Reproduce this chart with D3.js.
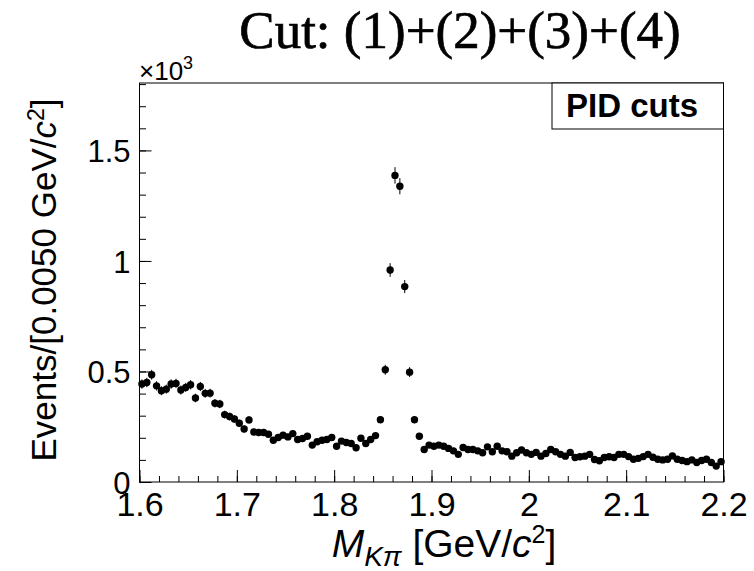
<!DOCTYPE html>
<html>
<head>
<meta charset="utf-8">
<script src="https://cdn.jsdelivr.net/npm/d3@7"></script>
<style>
  html, body { margin: 0; padding: 0; background: #fff; }
  svg { display: block; }
</style>
</head>
<body>
<div id="chart"></div>
<script>
// ---- data (events per 0.005 GeV/c^2 bin, in units of 10^3) ----
const binStart = 1.6;
const binWidth = 0.005;
const counts = [
  0.443, 0.450, 0.485, 0.435, 0.413, 0.420, 0.443, 0.446, 0.416, 0.428,
  0.440, 0.380, 0.432, 0.401, 0.402, 0.356, 0.353, 0.305, 0.296, 0.285,
  0.266, 0.240, 0.281, 0.226, 0.224, 0.224, 0.216, 0.189, 0.201, 0.212,
  0.204, 0.219, 0.192, 0.197, 0.207, 0.167, 0.182, 0.189, 0.192, 0.201,
  0.162, 0.185, 0.179, 0.174, 0.155, 0.198, 0.174, 0.192, 0.210, 0.282,
  0.508, 0.959, 1.387, 1.338, 0.884, 0.497, 0.282, 0.207, 0.147, 0.167,
  0.162, 0.167, 0.162, 0.152, 0.141, 0.125, 0.156, 0.147, 0.147, 0.141,
  0.132, 0.159, 0.137, 0.162, 0.141, 0.137, 0.117, 0.132, 0.145, 0.132,
  0.125, 0.134, 0.117, 0.129, 0.147, 0.137, 0.125, 0.117, 0.134, 0.111,
  0.114, 0.117, 0.125, 0.102, 0.096, 0.111, 0.114, 0.111, 0.125, 0.125,
  0.115, 0.103, 0.107, 0.115, 0.125, 0.112, 0.103, 0.100, 0.103, 0.118,
  0.103, 0.097, 0.092, 0.100, 0.088, 0.097, 0.103, 0.088, 0.072, 0.092
];
const xTickValues = [1.6, 1.7, 1.8, 1.9, 2.0, 2.1, 2.2];
const xTickLabels = ["1.6", "1.7", "1.8", "1.9", "2", "2.1", "2.2"];
const yTickValues = [0, 0.5, 1, 1.5];
const yTickLabels = ["0", "0.5", "1", "1.5"];
const xDomain = [1.6, 2.2];
const yDomain = [0, 1.805];
const titleText = "Cut: (1)+(2)+(3)+(4)";
const legendText = "PID cuts";

// ---- layout ----
const W = 754, H = 571;
const frame = { left: 139.5, right: 723.5, top: 83, bottom: 482 };

const svg = d3.select("#chart").append("svg")
  .attr("width", W).attr("height", H)
  .style("background", "#fff");

const x = d3.scaleLinear().domain(xDomain).range([frame.left, frame.right]);
const y = d3.scaleLinear().domain(yDomain).range([frame.bottom, frame.top]);

const font = "'Liberation Sans', Arial, Helvetica, sans-serif";

// frame
svg.append("rect")
  .attr("x", frame.left).attr("y", frame.top)
  .attr("width", frame.right - frame.left)
  .attr("height", frame.bottom - frame.top)
  .attr("fill", "none").attr("stroke", "#000").attr("stroke-width", 1);

// x axis (ticks inside, ROOT style)
const xMinor = d3.range(0, 31).map(i => 1.6 + i * 0.02);
const xAxisMinor = d3.axisBottom(x).tickValues(xMinor).tickSize(-6).tickFormat("");
const xAxisMajor = d3.axisBottom(x).tickValues(xTickValues).tickSize(-12)
  .tickFormat((d, i) => xTickLabels[i]);
const gx1 = svg.append("g").attr("transform", `translate(0,${frame.bottom})`).call(xAxisMinor);
const gx2 = svg.append("g").attr("transform", `translate(0,${frame.bottom})`).call(xAxisMajor);
[gx1, gx2].forEach(g => { g.select(".domain").remove(); g.selectAll("line").attr("stroke", "#000"); });
gx2.selectAll("text")
  .attr("font-family", font).attr("font-size", 34).attr("fill", "#000")
  .attr("dy", "0.71em").attr("y", 10);

// y axis
const yMinor = d3.range(0, 19).map(i => i * 0.1);
const yAxisMinor = d3.axisLeft(y).tickValues(yMinor).tickSize(-6.5).tickFormat("");
const yAxisMajor = d3.axisLeft(y).tickValues(yTickValues).tickSize(-12)
  .tickFormat((d, i) => yTickLabels[i]);
const gy1 = svg.append("g").attr("transform", `translate(${frame.left},0)`).call(yAxisMinor);
const gy2 = svg.append("g").attr("transform", `translate(${frame.left},0)`).call(yAxisMajor);
[gy1, gy2].forEach(g => { g.select(".domain").remove(); g.selectAll("line").attr("stroke", "#000"); });
gy2.selectAll("text")
  .attr("font-family", font).attr("font-size", 31).attr("fill", "#000")
  .attr("x", -9).attr("dy", "0.36em");

// x10^3 multiplier
const mult = svg.append("text").attr("x", 139).attr("y", 80)
  .attr("font-family", font).attr("font-size", 26).attr("fill", "#000");
mult.append("tspan").text("\u00d710");
mult.append("tspan").attr("font-size", 18).attr("dy", -11).text("3");

// data points with error bars
const pts = counts.map((v, i) => ({
  xc: binStart + binWidth * (i + 0.5),
  v: v,
  e: Math.sqrt(v * 1000) / 1000
}));
const gp = svg.append("g");
gp.selectAll("line.err").data(pts).enter().append("line")
  .attr("class", "err")
  .attr("x1", d => x(d.xc)).attr("x2", d => x(d.xc))
  .attr("y1", d => y(d.v - d.e)).attr("y2", d => y(d.v + d.e))
  .attr("stroke", "#000").attr("stroke-width", 1);
gp.selectAll("circle").data(pts).enter().append("circle")
  .attr("cx", d => x(d.xc)).attr("cy", d => y(d.v))
  .attr("r", 3.7).attr("fill", "#000");

// legend box
svg.append("rect")
  .attr("x", 552).attr("y", frame.top)
  .attr("width", frame.right - 552).attr("height", 46)
  .attr("fill", "#fff").attr("stroke", "#000").attr("stroke-width", 1);
svg.append("text")
  .attr("x", 632).attr("y", 117)
  .attr("text-anchor", "middle")
  .attr("font-family", font).attr("font-weight", "bold").attr("font-size", 33)
  .attr("fill", "#000").text(legendText);

// title
svg.append("text")
  .attr("x", 460).attr("y", 48)
  .attr("text-anchor", "middle")
  .attr("font-family", "'Liberation Serif', 'DejaVu Serif', serif")
  .attr("font-size", 53).attr("fill", "#000")
  .attr("stroke", "#000").attr("stroke-width", 0.7)
  .text(titleText);

// x title
const xt = svg.append("text")
  .attr("x", 444).attr("y", 557)
  .attr("text-anchor", "middle")
  .attr("font-family", font).attr("font-size", 39).attr("fill", "#000");
xt.append("tspan").attr("font-style", "italic").text("M");
xt.append("tspan").attr("font-style", "italic").attr("font-size", 28).attr("dy", 9).text("K\u03c0");
xt.append("tspan").attr("dy", -9).text(" [GeV/");
xt.append("tspan").attr("font-style", "italic").text("c");
xt.append("tspan").attr("font-size", 25).attr("dy", -14).text("2");
xt.append("tspan").attr("dy", 14).text("]");

// y title
const yt = svg.append("text")
  .attr("transform", `translate(56,280) rotate(-90)`)
  .attr("text-anchor", "middle")
  .attr("font-family", font).attr("font-size", 35).attr("fill", "#000");
yt.append("tspan").text("Events/[0.0050 GeV/");
yt.append("tspan").attr("font-style", "italic").text("c");
yt.append("tspan").attr("font-size", 23).attr("dy", -12).text("2");
yt.append("tspan").attr("dy", 12).text("]");
</script>
</body>
</html>
